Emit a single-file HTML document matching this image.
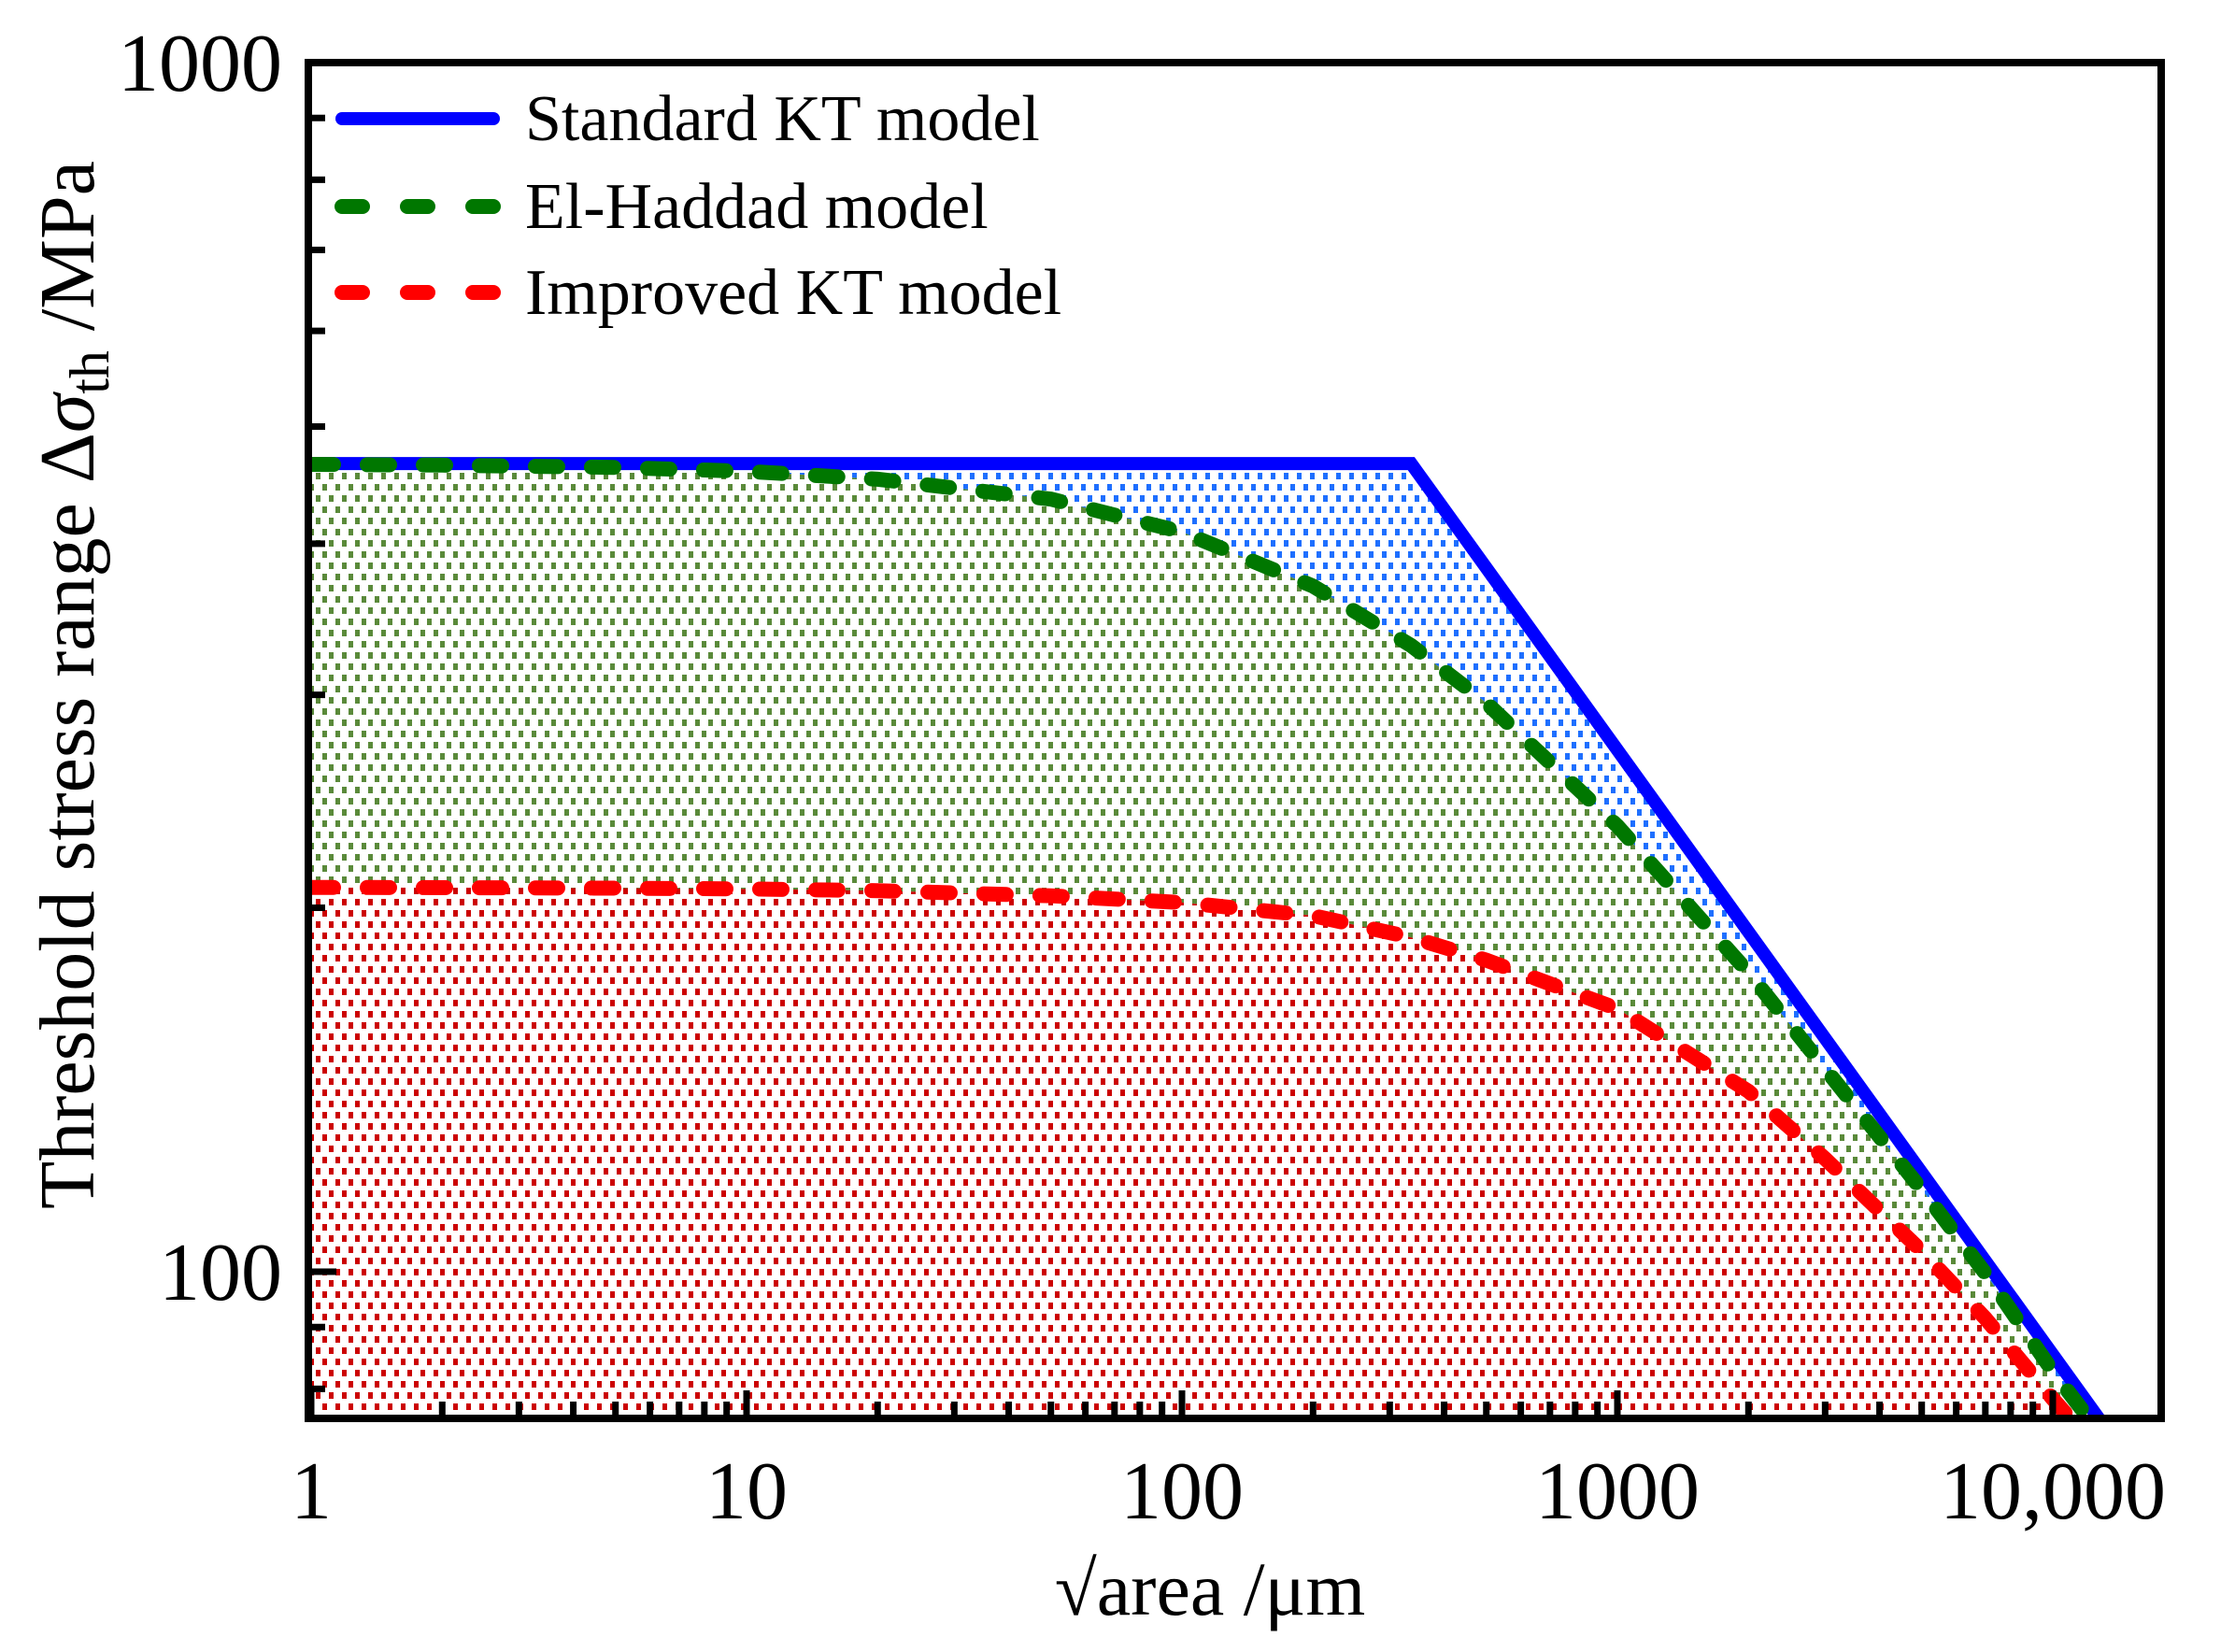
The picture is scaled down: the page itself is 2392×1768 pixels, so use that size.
<!DOCTYPE html>
<html><head><meta charset="utf-8"><style>
html,body{margin:0;padding:0;background:#fff;}
svg{display:block;font-family:"Liberation Serif",serif;}
</style></head><body>
<svg id="chart" width="2392" height="1768" viewBox="0 0 2392 1768">
<defs>
<pattern id="pRed" width="14" height="24" patternUnits="userSpaceOnUse"><rect x="2" y="2" width="5" height="7" fill="#cc0000"/><rect x="9" y="14" width="5" height="7" fill="#cc0000"/></pattern>
<pattern id="pGreen" width="14" height="24" patternUnits="userSpaceOnUse"><rect x="2" y="2" width="5" height="7" fill="#5a8a3a"/><rect x="9" y="14" width="5" height="7" fill="#5a8a3a"/></pattern>
<pattern id="pBlue" width="14" height="24" patternUnits="userSpaceOnUse"><rect x="2" y="2" width="5" height="7" fill="#1e6fff"/><rect x="9" y="14" width="5" height="7" fill="#1e6fff"/></pattern>
<clipPath id="clip"><rect x="330" y="67" width="1983" height="1451"/></clipPath>
</defs>
<g id="fills" clip-path="url(#clip)"></g>
<g id="lines" clip-path="url(#clip)"></g>
<g id="ticks"></g>
<rect x="330" y="67" width="1983" height="1451" fill="none" stroke="#000" stroke-width="8"/>
<g id="labels" font-size="88"></g>
<text x="1295" y="1728" font-size="82" text-anchor="middle">√area /μm</text>
<text transform="translate(100,733) rotate(-90)" font-size="84" text-anchor="middle">Threshold stress range Δ<tspan font-style="italic">σ</tspan><tspan font-size="60" dy="16">th</tspan><tspan dy="-16"> /MPa</tspan></text>
<g>
<line x1="366" y1="127" x2="528" y2="127" stroke="#0000ff" stroke-width="14" stroke-linecap="round"/>
<text x="562" y="150" font-size="70">Standard KT model</text>
<line x1="366" y1="221" x2="528" y2="221" stroke="#007700" stroke-width="16" stroke-linecap="round" stroke-dasharray="22 48"/>
<text x="562" y="244" font-size="70">El-Haddad model</text>
<line x1="366" y1="313" x2="528" y2="313" stroke="#ff0000" stroke-width="16" stroke-linecap="round" stroke-dasharray="22 48"/>
<text x="562" y="336" font-size="70">Improved KT model</text>
</g>
</svg>
<script>
const xVals = [1,2,5,10,20,50,100,200,336,500,1000,2000,3000,5000,7000,10000,13000,17000];
const standardX = [1,336,17000];
const standardY = [466,466,65.5];
const elHaddadY = [465.3,464.6,462.6,459.2,452.3,435.5,409.1,369.0,329.5,295.4,233.7,176.8,147.2,116.9,99.7,82.7,73.1,64.2];
const improvedY = [207.9,207.8,207.6,207.3,206.6,204.6,202.0,197.0,189.0,181.0,165.0,141.0,124.0,104.0,91.5,78.5,70.5,62.0];
const xTickLabels = ["1","10","100","1000","10,000"];
const xTickValues = [1,10,100,1000,10000];
const yTickLabels = ["100","1000"];
const yTickValues = [100,1000];

const NS="http://www.w3.org/2000/svg";
const X0=333,XD=466,Y1000=67,YD=1294;
function sx(v){return X0+Math.log10(v)*XD;}
function sy(v){return Y1000+(3-Math.log10(v))*YD;}
const BOT=1518;
function pts(xs,ys){return xs.map((x,i)=>sx(x)+','+sy(ys[i]));}
function mk(tag,attrs,parent){const e=document.createElementNS(NS,tag);for(const k in attrs)e.setAttribute(k,attrs[k]);parent.appendChild(e);return e;}
const fills=document.getElementById('fills'),lines=document.getElementById('lines'),ticks=document.getElementById('ticks'),labels=document.getElementById('labels');
const bp=pts(standardX,standardY),gp=pts(xVals,elHaddadY),rp=pts(xVals,improvedY);
let e;
e=mk('polygon',{points:[ '320,'+sy(standardY[0]) ].concat(bp,gp.slice().reverse(),['320,'+sy(elHaddadY[0])]).join(' '),fill:'url(#pBlue)'},fills);


e=mk('polygon',{points:['320,'+sy(elHaddadY[0])].concat(gp,rp.slice().reverse(),['320,'+sy(improvedY[0])]).join(' '),fill:'url(#pGreen)'},fills);


e=mk('polygon',{points:['320,'+sy(improvedY[0])].concat(rp,[sx(17000)+','+(BOT+10),'320,'+(BOT+10)]).join(' '),fill:'url(#pRed)'},fills);


e=mk('polyline',{points:['320,'+sy(standardY[0])].concat(bp).join(' '),fill:'none',stroke:'#0000ff','stroke-width':14},lines);


e=mk('polyline',{points:gp.join(' '),fill:'none',stroke:'#007700','stroke-width':16,'stroke-linecap':'round','stroke-dasharray':'24 36'},lines);


e=mk('polyline',{points:rp.join(' '),fill:'none',stroke:'#ff0000','stroke-width':16,'stroke-linecap':'round','stroke-dasharray':'24 36'},lines);


for(let d=0;d<5;d++){for(let m=1;m<10;m++){const v=Math.pow(10,d)*m;const x=sx(v);if(x>2313)break;const len=m==1?30:18;
e=mk('line',{x1:x,y1:BOT,x2:x,y2:BOT-len,stroke:'#000','stroke-width':7},ticks);

}}
const yMinor=[80,90,100,200,300,400,500,600,700,800,900,1000];
yMinor.forEach(v=>{const y=sy(v);const len=(v==100||v==1000)?30:18;
e=mk('line',{x1:330,y1:y,x2:330+len,y2:y,stroke:'#000','stroke-width':7},ticks);

});
xTickValues.forEach((v,i)=>{e=mk('text',{x:sx(v),y:1625,'text-anchor':'middle'},labels);e.textContent=xTickLabels[i];

});
yTickValues.forEach((v,i)=>{e=mk('text',{x:302,y:sy(v)+30,'text-anchor':'end'},labels);e.textContent=yTickLabels[i];

});
</script>
</body></html>
